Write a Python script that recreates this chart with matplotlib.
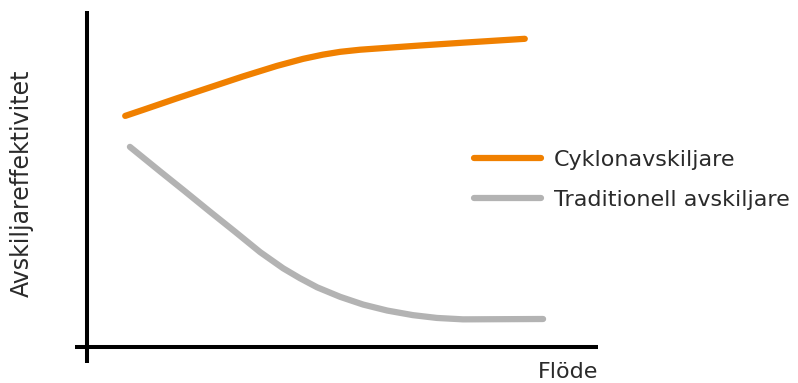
import numpy as np
import matplotlib
matplotlib.use('Agg')
import matplotlib.pyplot as plt

# values (arbitrary units, 0-100)
cyklon_flow = [9.6, 13.0, 19.5, 25.8, 32.1, 38.6, 43.6, 47.4, 50.7, 54.5, 58.3, 66.0, 74.2, 86.0]
cyklon_eff = [70.2, 71.9, 75.2, 78.3, 81.4, 84.4, 86.4, 87.6, 88.4, 89.0, 89.4, 90.2, 91.0, 92.1]
trad_flow = [10.5, 16.3, 21.0, 25.8, 30.6, 35.4, 39.8, 43.0, 46.3, 50.7, 55.1, 59.7, 64.6, 69.2, 74.2, 89.5]
trad_eff = [61.4, 54.4, 48.8, 43.0, 37.3, 31.5, 26.9, 24.1, 21.5, 18.8, 16.6, 14.9, 13.6, 12.8, 12.4, 12.5]
labels = ['Cyklonavskiljare', 'Traditionell avskiljare']

plt.rcParams['font.family'] = ['DejaVu Sans']

W, H = 798, 383
fig = plt.figure(figsize=(W / 100, H / 100), dpi=100)
ax = fig.add_axes([75 / W, (H - 363) / H, 523 / W, 352 / H])
ax.set_xlim(0, 100)
ax.set_ylim(0, 100)
ax.axis('off')

# axis lines
ax.plot([2.3, 2.3], [0, 100], color='black', lw=2.9, solid_capstyle='butt', clip_on=False)
ax.plot([0, 100], [4.5, 4.5], color='black', lw=2.9, solid_capstyle='butt', clip_on=False)

ax.plot(cyklon_flow, cyklon_eff, color='#F08000', lw=4.5, solid_capstyle='round',
        solid_joinstyle='round', label=labels[0], clip_on=False)
ax.plot(trad_flow, trad_eff, color='#B3B3B3', lw=4.5, solid_capstyle='round',
        solid_joinstyle='round', label=labels[1], clip_on=False)

leg = ax.legend(loc='upper left', bbox_to_anchor=(0.745, 0.63), frameon=False,
                fontsize=16, handlelength=3.05, handletextpad=0.55, labelspacing=0.9,
                borderaxespad=0)
for t in leg.get_texts():
    t.set_color('#2a2a2a')

fig.text(22 / W, 1 - 183 / H, 'Avskiljareffektivitet', rotation=90, ha='center', va='center',
         fontsize=17, color='#2a2a2a')
fig.text(598 / W, 1 - 372 / H, 'Flöde', ha='right', va='center', fontsize=16, color='#2a2a2a')

fig.savefig('out.png', dpi=100)
